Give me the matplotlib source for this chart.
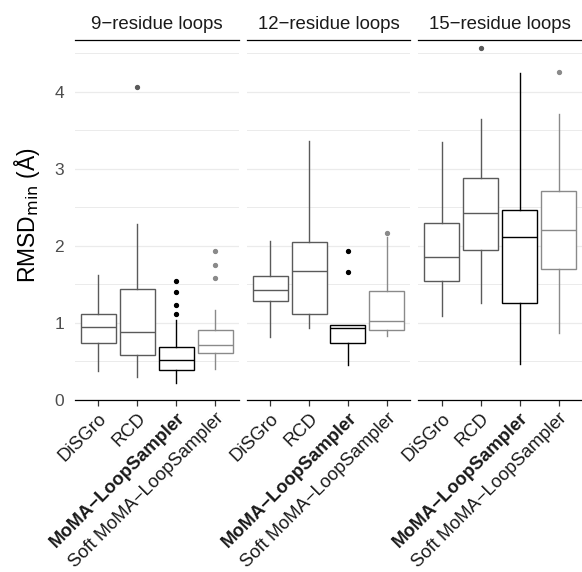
import matplotlib
matplotlib.use("Agg")
import matplotlib.pyplot as plt
from matplotlib.lines import Line2D

plt.rcParams['font.family'] = ['Liberation Sans', 'DejaVu Sans']

methods = ["DiSGro", "RCD", "MoMA\u2212LoopSampler", "Soft MoMA\u2212LoopSampler"]
panels = ["9\u2212residue loops", "12\u2212residue loops", "15\u2212residue loops"]

# Box statistics per loop length, one entry per method
whislo_9 = [0.376, 0.303, 0.216, 0.398]
q1_9 = [0.735, 0.584, 0.393, 0.605]
med_9 = [0.947, 0.886, 0.519, 0.709]
q3_9 = [1.115, 1.435, 0.683, 0.903]
whishi_9 = [1.62, 2.28, 1.037, 1.167]
fliers_9 = [[], [4.06], [1.115, 1.232, 1.397, 1.543], [1.578, 1.747, 1.928]]

whislo_12 = [0.821, 0.934, 0.45, 0.83]
q1_12 = [1.284, 1.111, 0.739, 0.903]
med_12 = [1.422, 1.673, 0.93, 1.025]
q3_12 = [1.604, 2.053, 0.977, 1.41]
whishi_12 = [2.066, 3.36, 0.977, 2.118]
fliers_12 = [[], [], [1.665, 1.928], [2.17]]

whislo_15 = [1.09, 1.254, 0.463, 0.873]
q1_15 = [1.543, 1.945, 1.258, 1.695]
med_15 = [1.85, 2.42, 2.11, 2.21]
q3_15 = [2.30, 2.875, 2.47, 2.715]
whishi_15 = [3.35, 3.65, 4.24, 3.71]
fliers_15 = [[], [4.56], [], [4.26]]

panel_stats = [
    (whislo_9, q1_9, med_9, q3_9, whishi_9, fliers_9),
    (whislo_12, q1_12, med_12, q3_12, whishi_12, fliers_12),
    (whislo_15, q1_15, med_15, q3_15, whishi_15, fliers_15),
]

method_colors = ["#5a5a5a", "#5a5a5a", "#000000", "#8a8a8a"]

W, H = 582, 572
fig = plt.figure(figsize=(W / 100, H / 100), dpi=100)
left, right, top, bottom = 75 / W, 1.0, 1 - 40 / H, 1 - 400 / H
fig.subplots_adjust(left=left, right=right, top=top, bottom=bottom, wspace=0.05)
axes = fig.subplots(1, 3, sharey=True)

for k, ax in enumerate(axes):
    wl, a, m, b, wh, fl = panel_stats[k]
    for i in range(4):
        stats = [dict(whislo=wl[i], q1=a[i], med=m[i], q3=b[i], whishi=wh[i], fliers=fl[i])]
        c = method_colors[i]
        ax.bxp(stats, positions=[i + 1], widths=0.9, showcaps=False, patch_artist=True,
               boxprops=dict(facecolor="white", edgecolor=c, linewidth=1.0),
               medianprops=dict(color=c, linewidth=1.0),
               whiskerprops=dict(color=c, linewidth=1.0),
               flierprops=dict(marker="o", markersize=2.8, markerfacecolor=c,
                               markeredgecolor=c, linestyle="none"),
               zorder=3)
    ax.set_xlim(0.4, 4.6)
    ax.set_ylim(0, 4.67)
    ax.set_yticks([0, 1, 2, 3, 4])
    ax.set_yticks([0.5, 1.5, 2.5, 3.5, 4.5], minor=True)
    ax.grid(axis="y", which="major", color="#ebebeb", linewidth=0.9, zorder=0)
    ax.grid(axis="y", which="minor", color="#ebebeb", linewidth=0.7, zorder=0)
    ax.grid(axis="x", visible=False)
    for s in ["left", "right", "top"]:
        ax.spines[s].set_visible(False)
    ax.spines["bottom"].set_color("black")
    ax.spines["bottom"].set_linewidth(0.9)
    ax.set_xticks([1, 2, 3, 4])
    ax.set_xticklabels(methods, rotation=45, ha="right", rotation_mode="anchor",
                       fontsize=13.2, color="#1a1a1a")
    ax.get_xticklabels()[2].set_fontweight("bold")
    ax.tick_params(axis="x", length=4, width=0.9, color="#333333", pad=3)
    ax.tick_params(axis="y", which="both", length=0, labelsize=12.5, labelcolor="#4d4d4d", pad=8)
    ax.set_title(panels[k], fontsize=13.4, color="#1a1a1a", pad=8)
    ax.add_line(Line2D([0, 1], [1, 1], transform=ax.transAxes, color="black",
                       linewidth=0.9, clip_on=False))

fig.text(0.047, (1 - 215 / H), r"RMSD$_{\mathrm{min}}$ (Å)", rotation=90,
         va="center", ha="center", fontsize=16.5)

fig.savefig("out.png", dpi=100)
